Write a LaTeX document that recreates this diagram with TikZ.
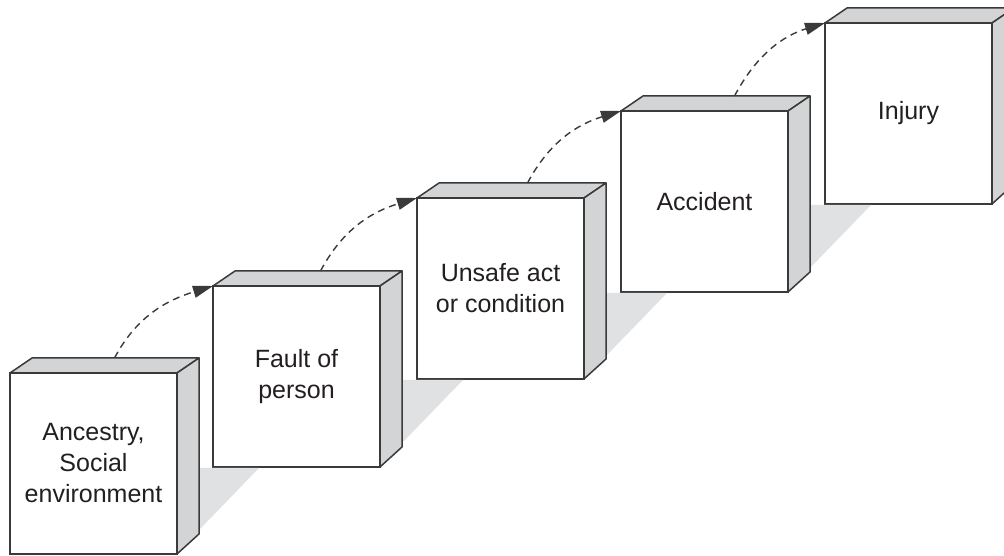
\documentclass[tikz,border=0pt]{standalone}
\usepackage{fontspec}
\setmainfont{Liberation Sans}
\usetikzlibrary{arrows.meta}

\definecolor{edgegray}{HTML}{3A3A3A}
\definecolor{facegray}{HTML}{D3D4D5}
\definecolor{shadowgray}{HTML}{E0E1E2}
\definecolor{textgray}{HTML}{231F20}

\tikzset{
  front/.style={draw=edgegray, fill=white, line width=1.5pt, minimum width=167pt,
    minimum height=181pt, inner sep=0pt, outer sep=0pt, align=center,
    text=textgray, font=\fontsize{25}{31}\selectfont},
  face/.style={draw=edgegray, fill=facegray, line width=1.5pt, line join=round},
  shade/.style={fill=shadowgray},
  link/.style={draw=edgegray, line width=1.4pt, dash pattern=on 7pt off 5pt,
    -{Triangle[length=20pt,width=12pt]}}
}

\begin{document}
\begin{tikzpicture}[x=1pt,y=1pt]
\clip (0,0) rectangle (1004,556);

\node[front] (anc) at (93.5,92.5) {Ancestry,\\Social\\environment};
\node[front] (fault) at (296.5,179.5) {Fault of\\person};
\node[front] (unsafe) at (500.5,267.5) {Unsafe act\\or condition};
\node[front] (acc) at (704.5,354.5) {Accident};
\node[front] (inj) at (908.5,442.5) {Injury};

\fill[shade] ([xshift=46,yshift=-1]fault.south west) -- ++(-60,-62) -- ++(0,62) -- cycle;
\fill[shade] ([xshift=46,yshift=-1]unsafe.south west) -- ++(-60,-62) -- ++(0,62) -- cycle;
\fill[shade] ([xshift=46,yshift=-1]acc.south west) -- ++(-60,-62) -- ++(0,62) -- cycle;
\fill[shade] ([xshift=46,yshift=-1]inj.south west) -- ++(-60,-62) -- ++(0,62) -- cycle;

\foreach \b in {anc,fault,unsafe,acc,inj}{
  \draw[face] (\b.north west) -- ++(22,15) -- ++(167,0) -- (\b.north east) -- cycle;
  \draw[face] (\b.north east) -- ++(22,15) -- ([shift={(22,20)}]\b.south east)
    -- (\b.south east) -- cycle;
}

\draw[link] ([shift={(21,15)}]anc.north) to[out=62,in=197] (fault.north west);
\draw[link] ([shift={(24,15)}]fault.north) to[out=62,in=197] (unsafe.north west);
\draw[link] ([shift={(27,15)}]unsafe.north) to[out=62,in=197] (acc.north west);
\draw[link] ([shift={(30,15)}]acc.north) to[out=62,in=197] (inj.north west);
\end{tikzpicture}
\end{document}
